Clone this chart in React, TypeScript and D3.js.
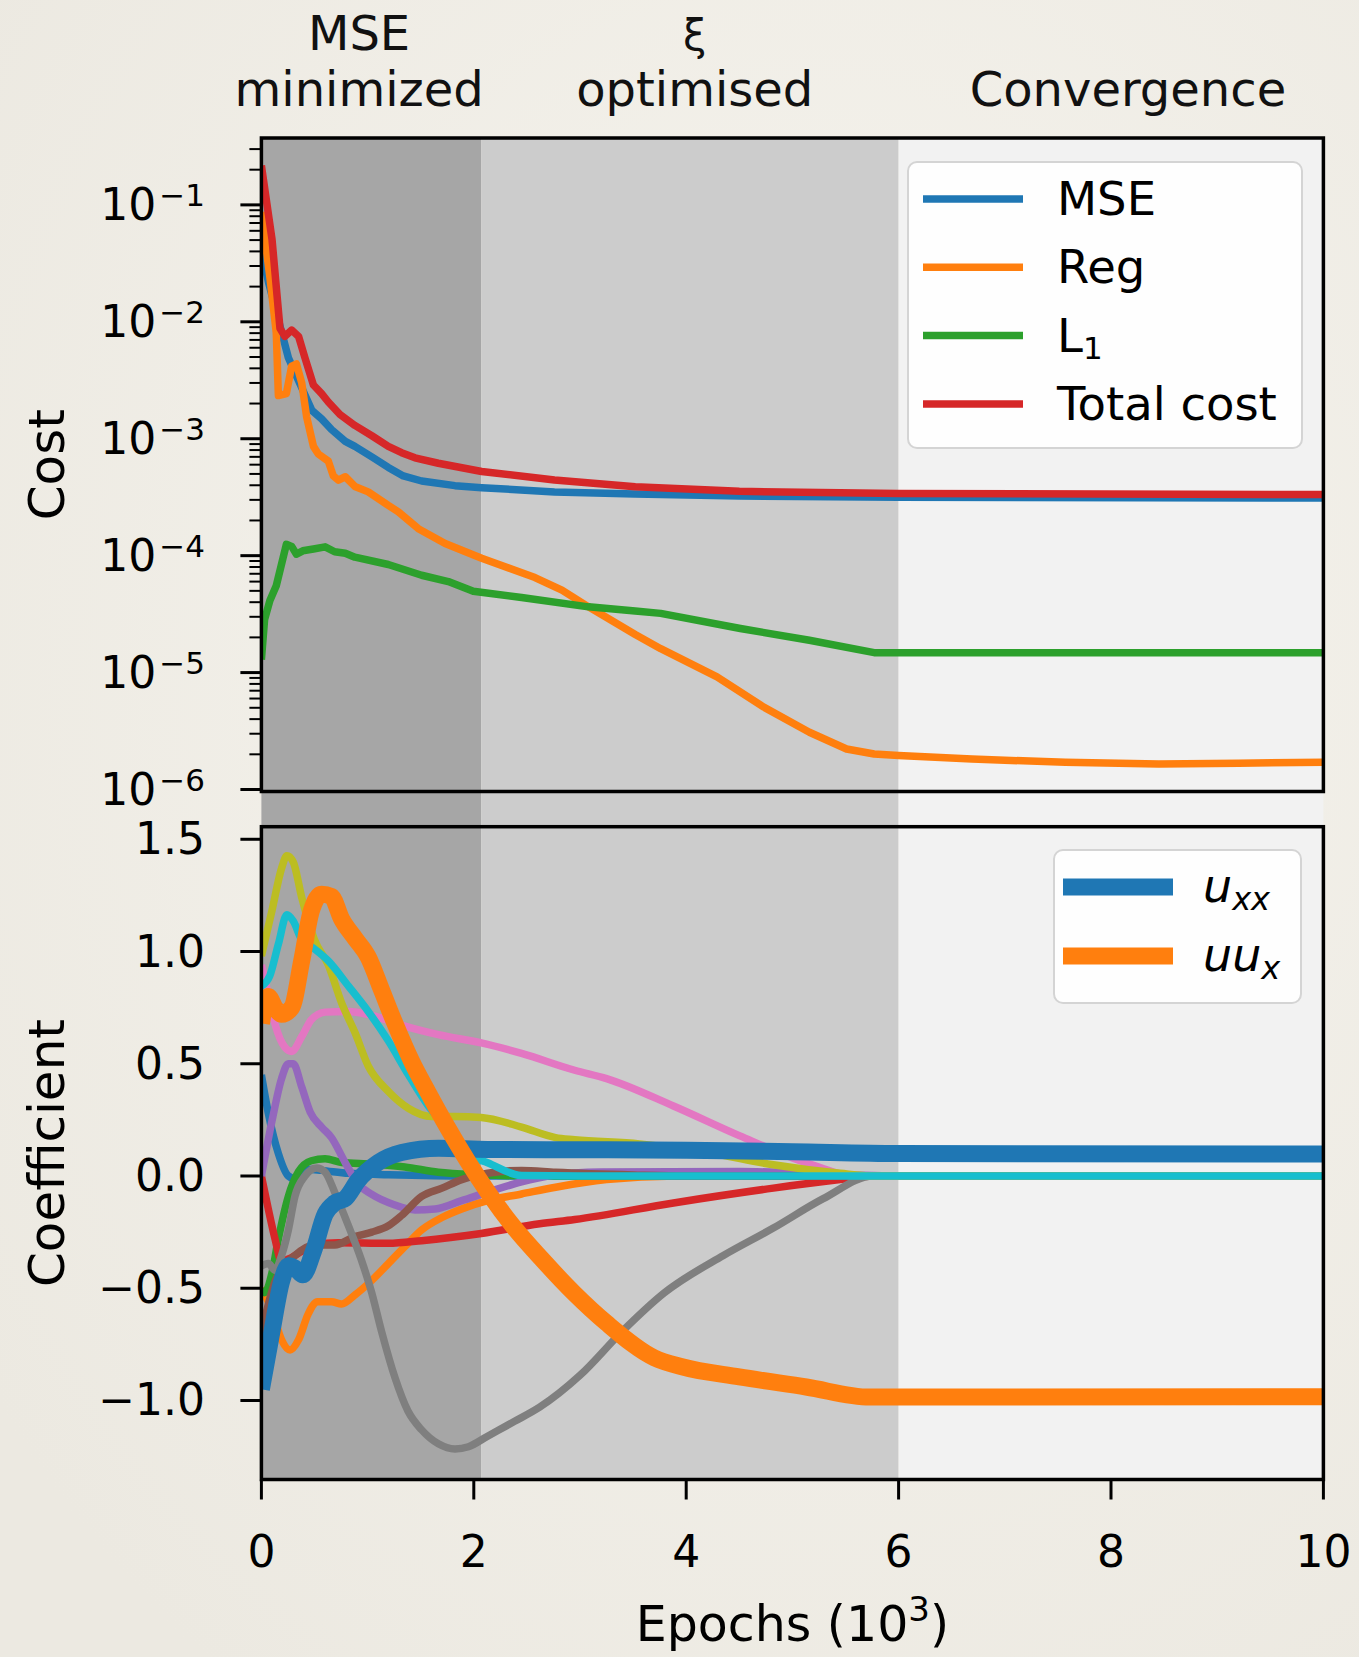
import React, { useRef, useEffect } from 'react';
import * as d3 from 'd3';

const W = 1359;
const H = 1657;

// training phases, epochs in 10^3
const phaseEdges = [0, 2.07, 6, 10];
const phaseColors = ['#a6a6a6', '#cccccc', '#f2f2f2'];
const phaseTitles = [['MSE', 'minimized'], ['ξ', 'optimised'], ['', 'Convergence']];
const phaseTitleX = [0.92, 4.08, 8.16];

const xTicks = [0, 2, 4, 6, 8, 10];
const costExponents = [-6, -5, -4, -3, -2, -1];
const coefTicks = [-1, -0.5, 0, 0.5, 1, 1.5];

// cost curves: [epoch (10^3), cost]
const mseCost = [
  [0, 4.12e-2], [0.07, 2.12e-2], [0.17, 9.6e-3], [0.254, 4.93e-3], [0.35, 3.13e-3],
  [0.475, 1.75e-3], [0.567, 1.48e-3], [0.66, 1.2e-3], [0.79, 9.5e-4], [0.88, 8.6e-4],
  [1.04, 7.0e-4], [1.195, 5.68e-4], [1.336, 4.81e-4], [1.509, 4.35e-4], [1.823, 3.97e-4],
  [2.074, 3.81e-4], [2.76, 3.51e-4], [3.52, 3.37e-4], [4.5, 3.24e-4], [6.0, 3.16e-4], [10, 3.11e-4],
];
const regCost = [
  [0, 8.7e-2], [0.08, 2.4e-2], [0.14, 8.1e-3], [0.16, 2.34e-3], [0.235, 2.43e-3],
  [0.285, 4.18e-3], [0.33, 4.36e-3], [0.38, 3.0e-3], [0.426, 1.54e-3], [0.49, 8.6e-4],
  [0.536, 7.4e-4], [0.63, 6.43e-4], [0.677, 4.81e-4], [0.725, 4.43e-4], [0.79, 4.73e-4],
  [0.88, 3.91e-4], [1.006, 3.51e-4], [1.195, 2.69e-4], [1.29, 2.37e-4], [1.478, 1.7e-4],
  [1.73, 1.27e-4], [2.074, 9.5e-5], [2.576, 6.5e-5], [2.83, 5.08e-5], [3.08, 3.65e-5],
  [3.52, 2.12e-5], [3.76, 1.6e-5], [4.29, 9.2e-6], [4.73, 5.07e-6], [5.16, 3.09e-6],
  [5.51, 2.22e-6], [5.77, 2.01e-6], [6.0, 1.95e-6], [6.69, 1.82e-6], [7.57, 1.71e-6],
  [8.45, 1.65e-6], [9.2, 1.68e-6], [10, 1.71e-6],
];
const l1Cost = [
  [0, 1.29e-5], [0.03, 2.84e-5], [0.08, 4.13e-5], [0.14, 5.53e-5], [0.235, 1.25e-4],
  [0.285, 1.2e-4], [0.33, 1.03e-4], [0.39, 1.1e-4], [0.49, 1.14e-4], [0.6, 1.19e-4],
  [0.69, 1.08e-4], [0.79, 1.05e-4], [0.88, 9.7e-5], [1.195, 8.4e-5], [1.509, 6.8e-5],
  [1.76, 6.0e-5], [1.995, 4.97e-5], [2.45, 4.39e-5], [3.08, 3.65e-5], [3.52, 3.36e-5],
  [3.76, 3.21e-5], [4.51, 2.38e-5], [5.16, 1.89e-5], [5.77, 1.48e-5], [6.0, 1.48e-5], [10, 1.48e-5],
];
const totalCost = [
  [0, 0.217], [0.1, 5.07e-2], [0.175, 8.8e-3], [0.22, 7.5e-3], [0.285, 8.5e-3],
  [0.35, 7.5e-3], [0.41, 4.93e-3], [0.49, 2.88e-3], [0.567, 2.43e-3], [0.63, 2.06e-3],
  [0.74, 1.61e-3], [0.88, 1.3e-3], [1.04, 1.06e-3], [1.195, 8.6e-4], [1.32, 7.6e-4],
  [1.446, 6.87e-4], [1.666, 6.17e-4], [2.074, 5.25e-4], [2.76, 4.43e-4], [3.52, 3.89e-4],
  [4.5, 3.55e-4], [6.0, 3.4e-4], [10, 3.33e-4],
];

const costNames = ['MSE', 'Reg', 'L1', 'Total cost'];
const costColors = ['#1f77b4', '#ff7f0e', '#2ca02c', '#d62728'];

// coefficient curves: [epoch (10^3), coefficient]
const coefC0 = [
  [0, 0.45], [0.065, 0.28], [0.16, 0.1], [0.254, 0.0], [0.33, -0.015], [0.44, 0.03],
  [0.567, 0.025], [0.82, 0.012], [1.2, 0.006], [2.0, 0.0], [10, 0.0],
];
const coefC1 = [
  [0, -0.5], [0.1, -0.6], [0.19, -0.73], [0.27, -0.775], [0.35, -0.73], [0.44, -0.615],
  [0.53, -0.56], [0.66, -0.56], [0.755, -0.57], [0.88, -0.53], [1.04, -0.465], [1.195, -0.39],
  [1.35, -0.315], [1.509, -0.24], [1.7, -0.185], [1.886, -0.147], [2.13, -0.11], [2.45, -0.08],
  [2.77, -0.05], [3.25, -0.016], [3.9, 0], [10, 0],
];
const coefC2 = [
  [0, -0.5], [0.03, -0.52], [0.1, -0.43], [0.16, -0.28], [0.254, -0.09], [0.35, 0.02],
  [0.47, 0.068], [0.6, 0.077], [0.755, 0.06], [1.04, 0.053], [1.35, 0.04], [1.666, 0.017],
  [2.07, 0.006], [2.6, 0], [10, 0],
];
const coefC3 = [
  [0, 0], [0.065, -0.147], [0.128, -0.28], [0.19, -0.38], [0.254, -0.37], [0.38, -0.335],
  [0.5, -0.307], [0.725, -0.297], [1.195, -0.3], [1.509, -0.288], [2.07, -0.256],
  [2.62, -0.213], [2.95, -0.194], [3.88, -0.12], [4.82, -0.054], [5.45, -0.016], [5.76, 0], [10, 0],
];
const coefC4 = [
  [0, 0], [0.1, 0.246], [0.19, 0.434], [0.254, 0.5], [0.3, 0.5], [0.38, 0.396], [0.46, 0.284],
  [0.567, 0.218], [0.66, 0.171], [0.79, 0.059], [0.91, -0.035], [1.04, -0.082], [1.257, -0.129],
  [1.446, -0.151], [1.635, -0.147], [1.886, -0.11], [2.13, -0.072], [2.45, -0.026], [2.7, 0.0],
  [3.2, 0.018], [4.5, 0.02], [5.5, 0.005], [6, 0], [10, 0],
];
const coefC5 = [
  [0, -0.7], [0.128, -0.47], [0.316, -0.354], [0.5, -0.307], [0.69, -0.307], [0.88, -0.27],
  [1.04, -0.25], [1.195, -0.222], [1.32, -0.176], [1.509, -0.091], [1.7, -0.054],
  [1.886, -0.016], [2.13, 0.012], [2.45, 0.025], [2.77, 0.017], [3.5, 0.005], [4, 0], [10, 0],
];
const coefC6 = [
  [0, 0.94], [0.065, 0.808], [0.128, 0.677], [0.22, 0.574], [0.285, 0.555], [0.38, 0.621],
  [0.47, 0.696], [0.6, 0.73], [0.82, 0.733], [1.04, 0.715], [1.35, 0.668], [1.666, 0.63],
  [2.07, 0.593], [2.45, 0.546], [2.95, 0.471], [3.25, 0.434], [3.88, 0.312], [4.5, 0.18],
  [5.13, 0.059], [5.6, 0], [10, 0],
];
const coefC7 = [
  [0, -0.4], [0.065, -0.39], [0.128, -0.42], [0.19, -0.354], [0.254, -0.24], [0.316, -0.09],
  [0.41, 0.0], [0.52, 0.036], [0.6, 0.017], [0.69, -0.072], [0.82, -0.222], [0.94, -0.372],
  [1.04, -0.522], [1.13, -0.69], [1.257, -0.897], [1.38, -1.047], [1.509, -1.131],
  [1.666, -1.193], [1.823, -1.216], [1.95, -1.206], [2.13, -1.159], [2.38, -1.094],
  [2.62, -1.03], [3.0, -0.888], [3.4, -0.691], [3.79, -0.522], [4.35, -0.354], [4.82, -0.232],
  [5.29, -0.101], [5.76, 0], [10, 0],
];
const coefC8 = [
  [0, 0.98], [0.1, 1.183], [0.19, 1.371], [0.24, 1.427], [0.3, 1.399], [0.38, 1.24],
  [0.5, 1.052], [0.63, 0.94], [0.755, 0.771], [0.88, 0.64], [1.006, 0.49], [1.195, 0.377],
  [1.383, 0.302], [1.6, 0.265], [1.823, 0.265], [2.07, 0.261], [2.45, 0.218], [2.77, 0.171],
  [2.95, 0.162], [3.56, 0.143], [4.19, 0.106], [4.82, 0.05], [5.45, 0.012], [5.76, 0], [10, 0],
];
const coefC9 = [
  [0, 0.846], [0.08, 0.893], [0.16, 1.033], [0.24, 1.164], [0.3, 1.136], [0.38, 1.052],
  [0.49, 1.015], [0.63, 0.958], [0.82, 0.846], [1.006, 0.733], [1.195, 0.602], [1.383, 0.452],
  [1.572, 0.312], [1.76, 0.209], [1.95, 0.096], [2.13, 0.059], [2.45, 0.002], [3.0, 0], [10, 0],
];
const coefUxx = [
  [0, -0.95], [0.1, -0.69], [0.19, -0.47], [0.254, -0.4], [0.316, -0.41], [0.39, -0.44],
  [0.49, -0.335], [0.6, -0.17], [0.69, -0.12], [0.79, -0.1], [0.91, -0.02], [1.1, 0.06],
  [1.32, 0.105], [1.67, 0.124], [2.13, 0.118], [3.0, 0.117], [4.0, 0.115], [5.0, 0.108],
  [6.0, 0.1], [10, 0.098],
];
const coefUux = [
  [0, 0.68], [0.065, 0.8], [0.128, 0.75], [0.19, 0.72], [0.285, 0.75], [0.38, 0.96],
  [0.47, 1.18], [0.567, 1.255], [0.66, 1.245], [0.755, 1.145], [0.88, 1.06], [1.006, 0.975],
  [1.13, 0.83], [1.257, 0.68], [1.415, 0.51], [1.572, 0.37], [1.76, 0.21], [1.95, 0.06],
  [2.13, -0.07], [2.38, -0.23], [2.64, -0.37], [2.94, -0.52], [3.25, -0.655], [3.7, -0.81],
  [3.96, -0.85], [4.5, -0.895], [5.13, -0.94], [5.73, -0.985], [6.4, -0.985], [10, -0.983],
];

const tab10 = ['#1f77b4', '#ff7f0e', '#2ca02c', '#d62728', '#9467bd', '#8c564b', '#e377c2', '#7f7f7f', '#bcbd22', '#17becf'];

const FONT = 'DejaVu Sans, Verdana, sans-serif';

const App = () => {
  const svgRef = useRef(null);

  useEffect(() => {
    const svg = d3.select(svgRef.current);
    svg.selectAll('*').remove();

    const left = 261.4;
    const right = 1323.4;
    const top1 = 138;
    const bottom1 = 791.5;
    const top2 = 826.7;
    const bottom2 = 1479.5;

    const x = d3.scaleLinear().domain([0, 10]).range([left, right]);
    const yCost = d3.scaleLog().domain([10 ** -6.017, 10 ** -0.428]).range([bottom1, top1]);
    const yCoef = d3.scaleLinear().domain([-1.352, 1.556]).range([bottom2, top2]);

    // paper background
    const defs = svg.append('defs');
    const grad = defs.append('radialGradient').attr('id', 'paper')
      .attr('cx', '60%').attr('cy', '40%').attr('r', '75%');
    grad.append('stop').attr('offset', '0%').attr('stop-color', '#f6f4ee');
    grad.append('stop').attr('offset', '100%').attr('stop-color', '#ece9e1');
    defs.append('clipPath').attr('id', 'clip1').append('rect')
      .attr('x', left).attr('y', top1).attr('width', right - left).attr('height', bottom1 - top1);
    defs.append('clipPath').attr('id', 'clip2').append('rect')
      .attr('x', left).attr('y', top2).attr('width', right - left).attr('height', bottom2 - top2);

    svg.append('rect').attr('width', W).attr('height', H).attr('fill', 'url(#paper)');

    // phase bands, spanning both panels
    phaseColors.forEach((c, i) => {
      svg.append('rect')
        .attr('x', x(phaseEdges[i]))
        .attr('y', top1)
        .attr('width', x(phaseEdges[i + 1]) - x(phaseEdges[i]))
        .attr('height', bottom2 - top1)
        .attr('fill', c);
    });

    // phase titles
    phaseTitles.forEach((lines, i) => {
      lines.forEach((t, j) => {
        if (!t) return;
        svg.append('text')
          .attr('x', x(phaseTitleX[i]))
          .attr('y', j === 0 ? 50 : 106)
          .attr('text-anchor', 'middle')
          .attr('font-family', FONT)
          .attr('font-size', t === 'ξ' ? 42 : 48)
          .attr('fill', '#111')
          .text(t);
      });
    });

    // ---- cost panel ----
    const costLine = d3.line()
      .x(d => x(d[0]))
      .y(d => yCost(d[1]));
    const g1 = svg.append('g').attr('clip-path', 'url(#clip1)');
    [mseCost, regCost, l1Cost, totalCost].forEach((s, i) => {
      g1.append('path')
        .attr('d', costLine(s))
        .attr('fill', 'none')
        .attr('stroke', costColors[i])
        .attr('stroke-width', 7.5)
        .attr('stroke-linejoin', 'round');
    });

    // log ticks
    const minor = [];
    for (let e = -7; e <= 0; e++) {
      for (let m = 2; m <= 9; m++) {
        const v = m * 10 ** e;
        if (v >= yCost.domain()[0] && v <= yCost.domain()[1]) minor.push(v);
      }
    }
    svg.append('g').selectAll('line').data(minor).enter().append('line')
      .attr('x1', left - 12).attr('x2', left)
      .attr('y1', d => yCost(d)).attr('y2', d => yCost(d))
      .attr('stroke', '#000').attr('stroke-width', 2);
    costExponents.forEach(e => {
      const yy = yCost(10 ** e);
      svg.append('line')
        .attr('x1', left - 21).attr('x2', left)
        .attr('y1', yy).attr('y2', yy)
        .attr('stroke', '#000').attr('stroke-width', 3);
      const t = svg.append('text')
        .attr('x', 205).attr('y', yy + 15)
        .attr('text-anchor', 'end')
        .attr('font-family', FONT)
        .attr('font-size', 44)
        .attr('fill', '#000');
      t.append('tspan').text('10');
      t.append('tspan').attr('dx', 3).attr('dy', -14).attr('font-size', 31).text('\u2212' + Math.abs(e));
    });

    svg.append('rect')
      .attr('x', left).attr('y', top1).attr('width', right - left).attr('height', bottom1 - top1)
      .attr('fill', 'none').attr('stroke', '#000').attr('stroke-width', 3.5);

    svg.append('text')
      .attr('transform', `translate(64,${(top1 + bottom1) / 2}) rotate(-90)`)
      .attr('text-anchor', 'middle')
      .attr('font-family', FONT).attr('font-size', 50).attr('fill', '#000')
      .text('Cost');

    // cost legend
    const lg1 = svg.append('g');
    lg1.append('rect')
      .attr('x', 908).attr('y', 162).attr('width', 394).attr('height', 286).attr('rx', 9)
      .attr('fill', '#fff').attr('fill-opacity', 0.9)
      .attr('stroke', '#d4d4d4').attr('stroke-width', 2);
    costNames.forEach((name, i) => {
      const base = 215 + i * 68.3;
      lg1.append('line')
        .attr('x1', 923).attr('x2', 1023).attr('y1', base - 16).attr('y2', base - 16)
        .attr('stroke', costColors[i]).attr('stroke-width', 7.5);
      const t = lg1.append('text')
        .attr('x', 1057).attr('y', base)
        .attr('font-family', FONT).attr('font-size', 46.5).attr('fill', '#000');
      if (name === 'L1') {
        t.append('tspan').text('L');
        t.append('tspan').attr('dy', 7).attr('font-size', 31).text('1');
      } else {
        t.text(name);
      }
    });

    // ---- coefficient panel ----
    const coefLine = d3.line()
      .x(d => x(d[0]))
      .y(d => yCoef(d[1]))
      .curve(d3.curveMonotoneX);
    const g2 = svg.append('g').attr('clip-path', 'url(#clip2)');
    [coefC0, coefC1, coefC2, coefC3, coefC4, coefC5, coefC6, coefC7, coefC8, coefC9].forEach((s, i) => {
      g2.append('path')
        .attr('d', coefLine(s))
        .attr('fill', 'none')
        .attr('stroke', tab10[i])
        .attr('stroke-width', 7.5)
        .attr('stroke-linejoin', 'round');
    });
    [coefUxx, coefUux].forEach((s, i) => {
      g2.append('path')
        .attr('d', coefLine(s))
        .attr('fill', 'none')
        .attr('stroke', tab10[i])
        .attr('stroke-width', 17)
        .attr('stroke-linejoin', 'round');
    });

    coefTicks.forEach(v => {
      const yy = yCoef(v);
      svg.append('line')
        .attr('x1', left - 21).attr('x2', left)
        .attr('y1', yy).attr('y2', yy)
        .attr('stroke', '#000').attr('stroke-width', 3);
      svg.append('text')
        .attr('x', 205).attr('y', yy + 15)
        .attr('text-anchor', 'end')
        .attr('font-family', FONT).attr('font-size', 44).attr('fill', '#000')
        .text(d3.format('.1f')(v).replace('-', '\u2212'));
    });

    xTicks.forEach(v => {
      svg.append('line')
        .attr('x1', x(v)).attr('x2', x(v))
        .attr('y1', bottom2).attr('y2', bottom2 + 20)
        .attr('stroke', '#000').attr('stroke-width', 3);
      svg.append('text')
        .attr('x', x(v)).attr('y', 1567)
        .attr('text-anchor', 'middle')
        .attr('font-family', FONT).attr('font-size', 44).attr('fill', '#000')
        .text(v);
    });

    svg.append('rect')
      .attr('x', left).attr('y', top2).attr('width', right - left).attr('height', bottom2 - top2)
      .attr('fill', 'none').attr('stroke', '#000').attr('stroke-width', 3.5);

    svg.append('text')
      .attr('transform', `translate(64,${(top2 + bottom2) / 2}) rotate(-90)`)
      .attr('text-anchor', 'middle')
      .attr('font-family', FONT).attr('font-size', 50).attr('fill', '#000')
      .text('Coefficient');

    const xl = svg.append('text')
      .attr('x', (left + right) / 2).attr('y', 1641)
      .attr('text-anchor', 'middle')
      .attr('font-family', FONT).attr('font-size', 49).attr('fill', '#000');
    xl.append('tspan').text('Epochs (10');
    xl.append('tspan').attr('dy', -20).attr('font-size', 34).text('3');
    xl.append('tspan').attr('dy', 20).text(')');

    // coefficient legend
    const lg2 = svg.append('g');
    lg2.append('rect')
      .attr('x', 1054).attr('y', 850).attr('width', 247).attr('height', 153).attr('rx', 9)
      .attr('fill', '#fff').attr('fill-opacity', 0.9)
      .attr('stroke', '#d4d4d4').attr('stroke-width', 2);
    [['u', 'xx'], ['uu', 'x']].forEach((lab, i) => {
      const base = 902 + i * 69;
      lg2.append('line')
        .attr('x1', 1063).attr('x2', 1173).attr('y1', base - 15).attr('y2', base - 15)
        .attr('stroke', tab10[i]).attr('stroke-width', 17);
      const t = lg2.append('text')
        .attr('x', 1203).attr('y', base)
        .attr('font-family', FONT).attr('font-style', 'italic')
        .attr('font-size', 46).attr('fill', '#000');
      t.append('tspan').text(lab[0]);
      t.append('tspan').attr('dy', 8).attr('font-size', 32).text(lab[1]);
    });
  }, []);

  return (
    <svg
      ref={svgRef}
      width={W}
      height={H}
      style={{ position: 'absolute', left: 0, top: 0, display: 'block' }}
    />
  );
};

export default App;
